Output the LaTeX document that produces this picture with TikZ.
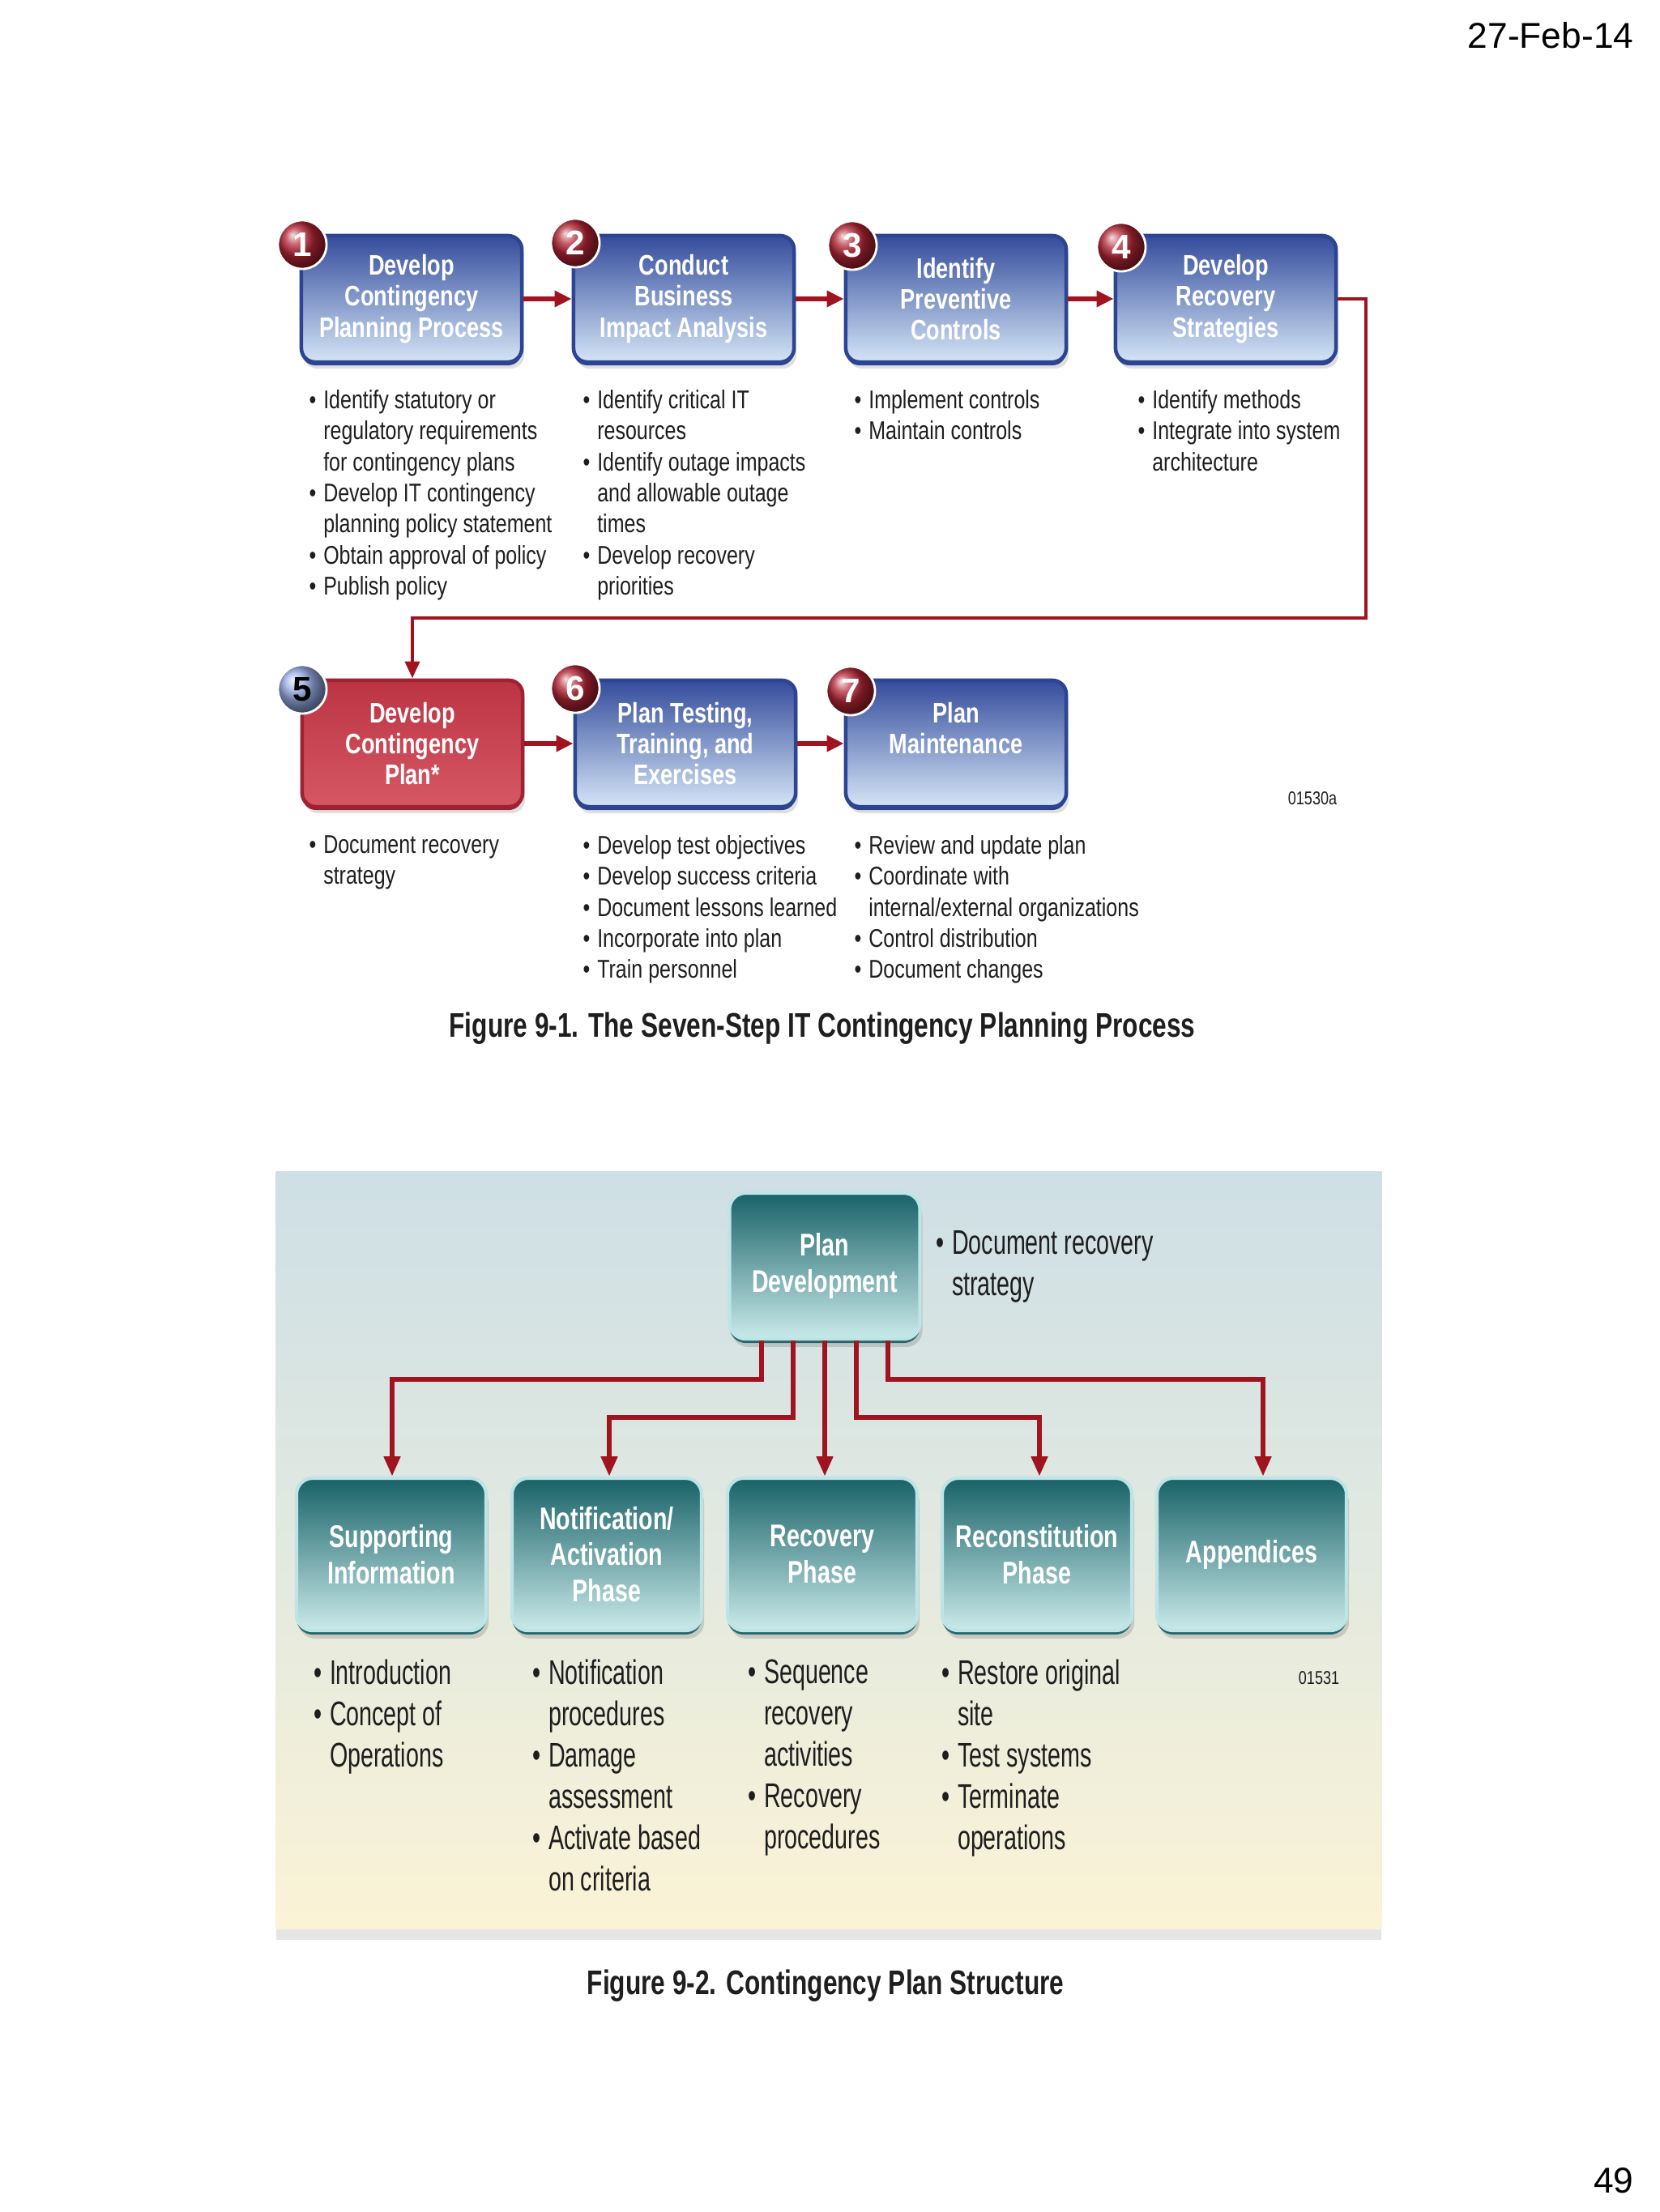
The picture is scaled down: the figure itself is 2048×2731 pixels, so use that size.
\documentclass[tikz,border=0pt]{standalone}
\usepackage{fontspec}
\setmainfont{Liberation Sans}
\newfontfamily\tfam[FakeStretch=0.78]{Liberation Sans}
\newfontfamily\bfam[FakeStretch=0.79]{Liberation Sans}
\newfontfamily\Bfam[FakeStretch=0.68]{Liberation Sans}
\newfontfamily\Tfam[FakeStretch=0.74]{Liberation Sans}
\newfontfamily\cfam[FakeStretch=0.75]{Liberation Sans}
\usetikzlibrary{arrows.meta,shadows,calc}
\newcommand\ttlf{\tfam\bfseries\fontsize{9.9}{10.9}\selectfont}
\newcommand\bulf{\bfam\fontsize{9}{10.9}\selectfont}
\newcommand\Bulf{\Bfam\fontsize{12}{14.5}\selectfont}
\newcommand\tealf{\Tfam\bfseries\fontsize{11}{12.6}\selectfont}
\newcommand\capf{\cfam\bfseries\fontsize{12}{14}\selectfont}
\newcommand\codef{\bfam\fontsize{6.5}{7}\selectfont}
\newcommand\mybul{\makebox[5pt][l]{\textbullet}}
\newcommand\myind{\hspace*{5pt}}
\newcommand\myBul{\makebox[5.5pt][l]{\textbullet}}
\newcommand\myInd{\hspace*{5.5pt}}
\definecolor{blueTop}{RGB}{52,76,156}
\definecolor{blueBot}{RGB}{212,229,246}
\definecolor{blueBd}{RGB}{44,68,145}
\definecolor{redTop}{RGB}{188,52,68}
\definecolor{redBot}{RGB}{214,88,100}
\definecolor{redBd}{RGB}{158,34,50}
\definecolor{ballRed}{RGB}{178,36,52}
\definecolor{ballBlue}{RGB}{150,170,228}
\definecolor{tealTop}{RGB}{24,98,104}
\definecolor{tealBot}{RGB}{202,234,234}
\definecolor{tealRim}{RGB}{190,228,230}
\definecolor{tealDark}{RGB}{38,104,110}
\definecolor{connRed}{RGB}{160,20,32}
\definecolor{panTop}{RGB}{206,223,229}
\definecolor{panMid}{RGB}{226,233,224}
\definecolor{panBot}{RGB}{251,243,214}
\definecolor{txt}{RGB}{30,30,30}
\begin{document}
\begin{tikzpicture}[x=0.01cm,y=-0.01cm,
  bluebox/.style={rounded corners=0.17cm, top color=blueTop, bottom color=blueBot,
    draw=blueBd, line width=1.3pt, minimum width=2.72cm, minimum height=1.56cm,
    text=white, font=\ttlf, align=center, inner sep=0pt,
    drop shadow={opacity=0.25, shadow xshift=0.03cm, shadow yshift=-0.08cm},
    drop shadow={fill=blueBd, opacity=1, shadow xshift=0cm, shadow yshift=-0.04cm}},
  redbox/.style={rounded corners=0.17cm, top color=redTop, bottom color=redBot,
    draw=redBd, line width=1.3pt, minimum width=2.72cm, minimum height=1.56cm,
    text=white, font=\ttlf, align=center, inner sep=0pt,
    drop shadow={opacity=0.25, shadow xshift=0.03cm, shadow yshift=-0.08cm},
    drop shadow={fill=redBd, opacity=1, shadow xshift=0cm, shadow yshift=-0.04cm}},
  tealbox/.style={rounded corners=0.2cm, top color=tealTop, bottom color=tealBot,
    draw=tealRim, line width=1.2pt, minimum width=2.34cm, minimum height=1.88cm,
    text=white, font=\tealf, align=center, inner sep=0pt,
    drop shadow={opacity=0.3, shadow xshift=0.03cm, shadow yshift=-0.1cm},
    drop shadow={fill=tealDark, opacity=1, shadow xshift=0cm, shadow yshift=-0.05cm}},
  numc/.style={circle, ball color=ballRed, draw=white, line width=0.8pt,
    minimum size=0.6cm, inner sep=0pt, text=white, font=\bfseries\fontsize{12}{13}\selectfont},
  numcb/.style={numc, ball color=ballBlue, text=black},
  conn/.style={draw=connRed, line width=1.6pt, -{Triangle[length=6pt,width=5.5pt]}},
  connlong/.style={draw=connRed, line width=1.4pt, -{Triangle[length=6pt,width=5pt]}},
  conntwo/.style={draw=connRed, line width=1.9pt, -{Triangle[length=7pt,width=5.5pt]}},
  bultxt/.style={anchor=north west, inner sep=0pt, align=left, font=\bulf, text=txt},
  Bultxt/.style={anchor=north west, inner sep=0pt, align=left, font=\Bulf, text=txt},
  panel/.style={rectangle, top color=panTop, bottom color=panBot, middle color=panMid,
    minimum width=13.64cm, minimum height=9.34cm, inner sep=0pt,
    drop shadow={opacity=0.2, shadow xshift=0cm, shadow yshift=-0.14cm}}
]
\fill[white] (0,0) rectangle (2048,2731);
\useasboundingbox (0,0) rectangle (2048,2731);

% page header and footer
\node[anchor=east, inner sep=0pt, font=\fontsize{12.6}{15}\selectfont] (date) at (2017,44) {27-Feb-14};
\node[anchor=east, inner sep=0pt, font=\fontsize{12.6}{15}\selectfont] (page) at (2017,2692) {49};

% ---------- Figure 9-1 ----------
\node[bluebox] (b1) at (508,369) {Develop\\Contingency\\Planning Process};
\node[bluebox] (b2) at (844,369) {Conduct\\Business\\Impact Analysis};
\node[bluebox] (b3) at (1180,369) {Identify\\Preventive\\Controls};
\node[bluebox] (b4) at (1513,369) {Develop\\Recovery\\Strategies};
\node[redbox]  (b5) at (509,918) {Develop\\Contingency\\Plan*};
\node[bluebox] (b6) at (846,918) {Plan Testing,\\Training, and\\Exercises};
\node[bluebox] (b7) at (1180,918) {Plan\\Maintenance\\\mbox{}};

\draw[conn] (b1.east) -- (b2.west);
\draw[conn] (b2.east) -- (b3.west);
\draw[conn] (b3.east) -- (b4.west);
\coordinate (t1) at (1686,763);
\draw[connlong] (b4.east) -| (t1) -| (b5.north);
\draw[conn] (b5.east) -- (b6.west);
\draw[conn] (b6.east) -- (b7.west);

\node[numc] (n1) at (373,302) {1};
\node[numc] (n2) at (710,300) {2};
\node[numc] (n3) at (1052,303) {3};
\node[numc] (n4) at (1384,305) {4};
\node[numcb] (n5) at (373,851) {5};
\node[numc] (n6) at (710,850) {6};
\node[numc] (n7) at (1050,853) {7};

\node[bultxt] (l1) at (381,481) {\mybul Identify statutory or\\\myind regulatory requirements\\\myind for contingency plans\\\mybul Develop IT contingency\\\myind planning policy statement\\\mybul Obtain approval of policy\\\mybul Publish policy};
\node[bultxt] (l2) at (719,481) {\mybul Identify critical IT\\\myind resources\\\mybul Identify outage impacts\\\myind and allowable outage\\\myind times\\\mybul Develop recovery\\\myind priorities};
\node[bultxt] (l3) at (1054,481) {\mybul Implement controls\\\mybul Maintain controls};
\node[bultxt] (l4) at (1404,481) {\mybul Identify methods\\\mybul Integrate into system\\\myind architecture};
\node[bultxt] (l5) at (381,1031) {\mybul Document recovery\\\myind strategy};
\node[bultxt] (l6) at (719,1031) {\mybul Develop test objectives\\\mybul Develop success criteria\\\mybul Document lessons learned\\\mybul Incorporate into plan\\\mybul Train personnel};
\node[bultxt] (l7) at (1054,1031) {\mybul Review and update plan\\\mybul Coordinate with\\\myind internal/external organizations\\\mybul Control distribution\\\mybul Document changes};

\node[inner sep=0pt, font=\codef, text=txt] (code1) at (1620,986) {01530a};
\node[inner sep=0pt, font=\capf, text=txt] (cap1) at (1015,1270) {Figure 9-1. The Seven-Step IT Contingency Planning Process};

% ---------- Figure 9-2 ----------
\node[panel] (pan) at (1023,1914) {};
\node[tealbox, minimum width=2.35cm, minimum height=1.8cm] (pd) at (1018,1563) {Plan\\Development};
\node[Bultxt] (pdl) at (1155,1519) {\myBul Document recovery\\\myInd strategy};

\node[tealbox] (sup) at (483,1919) {Supporting\\Information};
\node[tealbox] (nap) at (749,1919) {Notification/\\Activation\\Phase};
\node[tealbox] (rp)  at (1015,1919) {Recovery\\Phase};
\node[tealbox] (rcp) at (1280,1919) {Reconstitution\\Phase};
\node[tealbox] (app) at (1545,1919) {Appendices};

\coordinate (h1) at (484,1703);
\coordinate (h2) at (752,1750);
\coordinate (h4) at (1283,1750);
\coordinate (h5) at (1559,1703);
\draw[conntwo] ([xshift=-0.78cm]pd.south) |- (h1) -- (h1 |- sup.north);
\draw[conntwo] ([xshift=-0.39cm]pd.south) |- (h2) -- (h2 |- nap.north);
\draw[conntwo] (pd.south) -- (pd.south |- rp.north);
\draw[conntwo] ([xshift=0.39cm]pd.south) |- (h4) -- (h4 |- rcp.north);
\draw[conntwo] ([xshift=0.78cm]pd.south) |- (h5) -- (h5 |- app.north);

\node[Bultxt] (s1) at (387,2048) {\myBul Introduction\\\myBul Concept of\\\myInd Operations};
\node[Bultxt] (s2) at (657,2048) {\myBul Notification\\\myInd procedures\\\myBul Damage\\\myInd assessment\\\myBul Activate based\\\myInd on criteria};
\node[Bultxt] (s3) at (923,2048) {\myBul Sequence\\\myInd recovery\\\myInd activities\\\myBul Recovery\\\myInd procedures};
\node[Bultxt] (s4) at (1162,2048) {\myBul Restore original\\\myInd site\\\myBul Test systems\\\myBul Terminate\\\myInd operations};
\node[inner sep=0pt, font=\codef, text=txt] (code2) at (1628,2072) {01531};

\node[inner sep=0pt, font=\capf, text=txt] (cap2) at (1019,2452) {Figure 9-2. Contingency Plan Structure};
\end{tikzpicture}
\end{document}
